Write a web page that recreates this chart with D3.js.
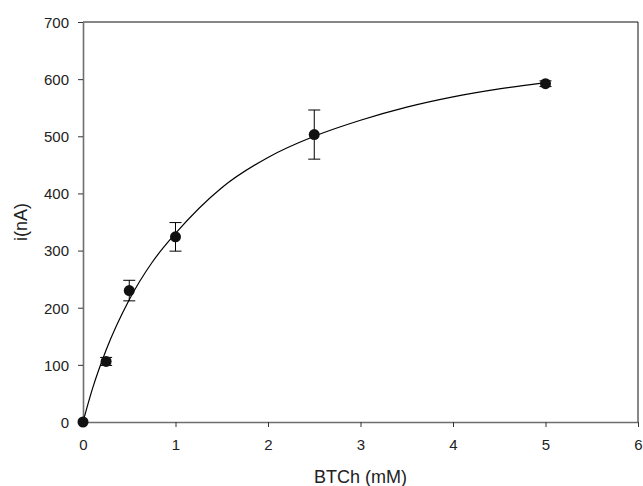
<!DOCTYPE html>
<html>
<head>
<meta charset="utf-8">
<script src="https://cdn.jsdelivr.net/npm/d3@7"></script>
<style>
  body { margin: 0; background: #fff; }
  svg { display: block; font-family: "Liberation Sans", Arial, sans-serif; }
</style>
</head>
<body>
<div id="chart"></div>
<script>
// measured points (mean ± error)
const conc = [0, 0.25, 0.5, 1, 2.5, 5];
const current = [0, 106, 230, 324, 503, 592];
const errors = [0, 7, 18, 25, 43, 5];

// fitted curve
const curveX = [0, 0.1, 0.25, 0.5, 0.75, 1, 1.5, 2, 2.5, 3, 3.5, 4, 4.5, 5];
const curveY = [0, 57, 126, 214, 280, 330, 410, 463, 500, 528, 551, 569, 583, 594];

const xTicks = [0, 1, 2, 3, 4, 5, 6];
const yTicks = [0, 100, 200, 300, 400, 500, 600, 700];

const width = 643, height = 486;
const margin = { top: 22, right: 5, bottom: 64, left: 83 };
const innerW = width - margin.left - margin.right;
const innerH = height - margin.top - margin.bottom;

const svg = d3.select('#chart').append('svg')
  .attr('width', width)
  .attr('height', height);

const g = svg.append('g').attr('transform', `translate(${margin.left},${margin.top})`);

const x = d3.scaleLinear().domain([0, 6]).range([0, innerW]);
const y = d3.scaleLinear().domain([0, 700]).range([innerH, 0]);

// frame: top and right thin black
g.append('line').attr('x1', 0).attr('x2', innerW).attr('y1', 0).attr('y2', 0)
  .attr('stroke', '#111').attr('stroke-width', 1);
g.append('line').attr('x1', innerW).attr('x2', innerW).attr('y1', 0).attr('y2', innerH)
  .attr('stroke', '#111').attr('stroke-width', 1);

const xAxis = g.append('g')
  .attr('transform', `translate(0,${innerH})`)
  .call(d3.axisBottom(x).tickValues(xTicks).tickFormat(d3.format('d')).tickSize(5).tickSizeOuter(0));
const yAxis = g.append('g')
  .call(d3.axisLeft(y).tickValues(yTicks).tickFormat(d3.format('d')).tickSize(5).tickSizeOuter(0));

[xAxis, yAxis].forEach((ax) => {
  ax.select('.domain').attr('stroke', '#6e6e6e').attr('stroke-width', 1.6);
  ax.selectAll('.tick line').attr('stroke', '#333').attr('stroke-width', 1);
  ax.selectAll('.tick text')
    .attr('fill', '#222')
    .style('font-size', '15px')
    .style('font-family', '"Liberation Sans", Arial, sans-serif');
});
xAxis.selectAll('.tick text').attr('dy', '1.35em');
yAxis.selectAll('.tick text').attr('x', -14).attr('dy', '0.36em');

// fitted curve
const curvePts = curveX.map((cx, i) => [cx, curveY[i]]);
g.append('path')
  .datum(curvePts)
  .attr('fill', 'none')
  .attr('stroke', '#000')
  .attr('stroke-width', 1.2)
  .attr('d', d3.line().x((d) => x(d[0])).y((d) => y(d[1])).curve(d3.curveMonotoneX));

// error bars
const pts = conc.map((c, i) => ({ c, v: current[i], e: errors[i] }));
const capW = 6;
const eb = g.append('g').attr('stroke', '#000').attr('stroke-width', 1);
eb.selectAll('line.v').data(pts.filter((d) => d.e > 0)).join('line')
  .attr('class', 'v')
  .attr('x1', (d) => x(d.c)).attr('x2', (d) => x(d.c))
  .attr('y1', (d) => y(d.v + d.e)).attr('y2', (d) => y(d.v - d.e));
eb.selectAll('line.t').data(pts.filter((d) => d.e > 0)).join('line')
  .attr('class', 't')
  .attr('x1', (d) => x(d.c) - capW).attr('x2', (d) => x(d.c) + capW)
  .attr('y1', (d) => y(d.v + d.e)).attr('y2', (d) => y(d.v + d.e));
eb.selectAll('line.b').data(pts.filter((d) => d.e > 0)).join('line')
  .attr('class', 'b')
  .attr('x1', (d) => x(d.c) - capW).attr('x2', (d) => x(d.c) + capW)
  .attr('y1', (d) => y(d.v - d.e)).attr('y2', (d) => y(d.v - d.e));

// markers
g.selectAll('circle.pt').data(pts).join('circle')
  .attr('class', 'pt')
  .attr('cx', (d) => x(d.c))
  .attr('cy', (d) => y(d.v))
  .attr('r', 5.5)
  .attr('fill', '#111');

// axis titles
svg.append('text')
  .attr('x', margin.left + innerW / 2)
  .attr('y', 483)
  .attr('text-anchor', 'middle')
  .attr('fill', '#222')
  .style('font-size', '18px')
  .text('BTCh (mM)');

svg.append('text')
  .attr('transform', `translate(27,${margin.top + innerH / 2}) rotate(-90)`)
  .attr('text-anchor', 'middle')
  .attr('fill', '#222')
  .style('font-size', '18px')
  .text('i(nA)');
</script>
</body>
</html>
